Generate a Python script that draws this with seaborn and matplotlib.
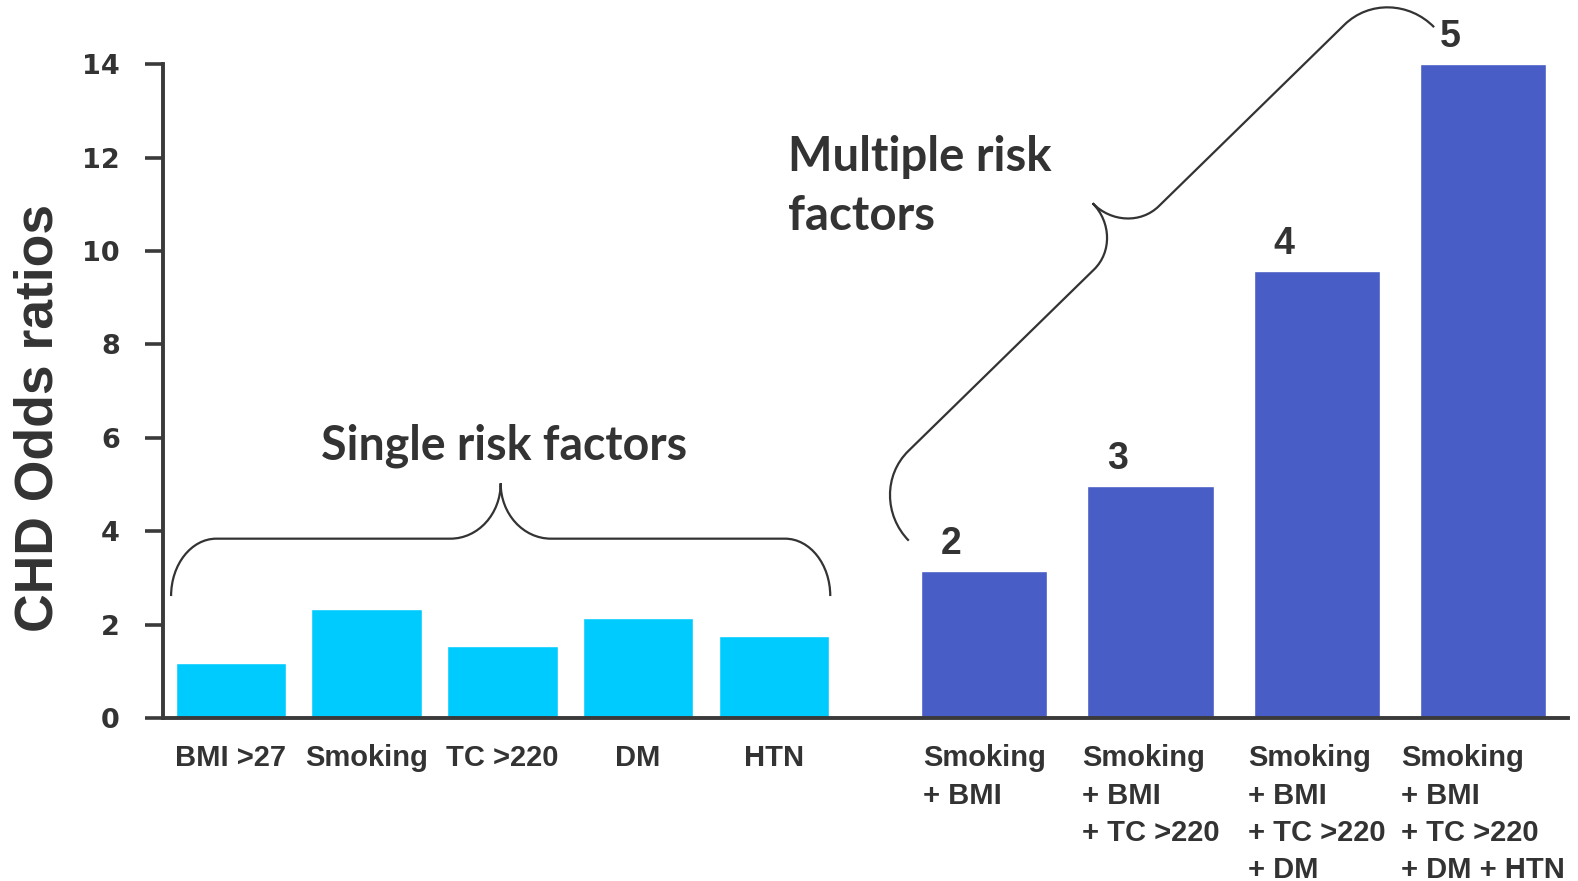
import numpy as np
import pandas as pd
import seaborn as sns
import matplotlib.pyplot as plt
from matplotlib.path import Path
from matplotlib.patches import PathPatch

# Odds ratios for coronary heart disease by risk factor
single_factors = ["BMI >27", "Smoking", "TC >220", "DM", "HTN"]
single_or = [1.17, 2.33, 1.53, 2.14, 1.75]

combo_factors = [
    "Smoking\n+ BMI",
    "Smoking\n+ BMI\n+ TC >220",
    "Smoking\n+ BMI\n+ TC >220\n+ DM",
    "Smoking\n+ BMI\n+ TC >220\n+ DM + HTN",
]
combo_or = [3.15, 4.96, 9.58, 14.0]
combo_counts = ["2", "3", "4", "5"]

y_ticks = [0, 2, 4, 6, 8, 10, 12, 14]

SINGLE_COLOR = "#00CBFF"
COMBO_COLOR = "#485DC5"
INK = "#333333"

sns.set_theme(style="white")
plt.rcParams["font.family"] = ["Liberation Sans", "DejaVu Sans"]

fig = plt.figure(figsize=(15.78, 8.81), dpi=100)
ax = fig.add_axes([0.10332, 0.18514, 0.89031, 0.74171])

# bar slot layout: single factors one slot apart, combinations a little wider apart
single_x = np.arange(len(single_factors)) + 0.5
combo_x = 6.05 + 1.225 * np.arange(len(combo_factors))

df_single = pd.DataFrame({"pos": single_x, "odds": single_or})
df_combo = pd.DataFrame({"pos": combo_x, "odds": combo_or})

sns.barplot(data=df_single, x="pos", y="odds", native_scale=True,
            width=0.815, color=SINGLE_COLOR, saturation=1, ax=ax)
sns.barplot(data=df_combo, x="pos", y="odds", native_scale=True,
            width=0.76, color=COMBO_COLOR, saturation=1, ax=ax)

ax.set_xlim(0, 10.35)
ax.set_ylim(0, 14)
ax.set_yticks(y_ticks)
ax.set_yticklabels([str(t) for t in y_ticks], fontfamily="DejaVu Sans",
                   fontweight="bold", fontsize=19.5, color=INK)

ax.set_xticks(list(single_x) + list(combo_x))
ax.set_xticklabels(single_factors + combo_factors, fontweight="bold",
                   fontsize=21, color=INK, multialignment="left",
                   linespacing=1.42, va="top")
ax.tick_params(axis="x", length=0, pad=19)
ax.tick_params(axis="y", length=13, width=2.6, color="#3a3a3a", pad=18, left=True)

for side in ("top", "right"):
    ax.spines[side].set_visible(False)
for side in ("left", "bottom"):
    ax.spines[side].set_color("#3a3a3a")
    ax.spines[side].set_linewidth(2.8)

ax.set_xlabel("")
ax.set_ylabel("CHD Odds ratios", fontsize=38.5, fontweight="bold", color=INK, va="center")
ax.yaxis.set_label_coords(-0.0888, 0.459)

# number of combined risk factors above each combination bar
for xp, val, n in zip(combo_x, combo_or, combo_counts):
    ax.annotate(n, xy=(xp, val), xytext=(-33, 27), textcoords="offset pixels",
                ha="center", va="center", fontsize=27, fontweight="bold",
                color=INK, annotation_clip=False)

# overlay in pixel units for the group braces and captions
ov = fig.add_axes([0, 0, 1, 1], zorder=5)
ov.set_xlim(0, 1568)
ov.set_ylim(875, 0)
ov.axis("off")
ov.patch.set_alpha(0)


def brace_path(p0, p1, curl, r1, tip, r2, toward):
    """Curly brace from p0 to p1 whose point sticks out on the side of `toward`."""
    p0 = np.asarray(p0, float)
    p1 = np.asarray(p1, float)
    axis = p1 - p0
    length = np.hypot(*axis)
    u = axis / length
    n = np.array([-u[1], u[0]])
    mid = (p0 + p1) / 2
    if np.dot(np.asarray(toward, float) - mid, n) < 0:
        n = -n
    k = 0.5523
    half = length / 2
    a = half - r2
    local = [
        (0, 0),
        (0, k * curl), (r1 - k * r1, curl), (r1, curl),
        (a, curl),
        (a + k * r2, curl), (half, curl + tip - k * tip), (half, curl + tip),
    ]
    codes = [Path.MOVETO, Path.CURVE4, Path.CURVE4, Path.CURVE4, Path.LINETO,
             Path.CURVE4, Path.CURVE4, Path.CURVE4]
    mirrored = [(length - s, t) for s, t in reversed(local[:-1])]
    local = local + mirrored
    codes = codes + [Path.CURVE4, Path.CURVE4, Path.CURVE4, Path.LINETO,
                     Path.CURVE4, Path.CURVE4, Path.CURVE4]
    pts = [p0 + s * u + t * n for s, t in local]
    return Path(pts, codes)


single_brace = brace_path((170, 592), (825, 592), curl=57, r1=45, tip=55, r2=50,
                          toward=(496, 0))
multi_brace = brace_path((903, 537), (1425, 27), curl=64, r1=62, tip=48, r2=45,
                         toward=(1000, 100))
for p in (single_brace, multi_brace):
    ov.add_patch(PathPatch(p, facecolor="none", edgecolor="#333333", lw=1.6))

ov.text(501, 456, "Single risk factors", ha="center", va="baseline",
        fontfamily="Lato", fontweight="bold", fontsize=33.5, color=INK)
ov.text(783, 134, "Multiple risk\nfactors", ha="left", va="top",
        fontfamily="Lato", fontweight="bold", fontsize=34, color=INK,
        linespacing=1.42)

fig.savefig("out.png", dpi=100)
